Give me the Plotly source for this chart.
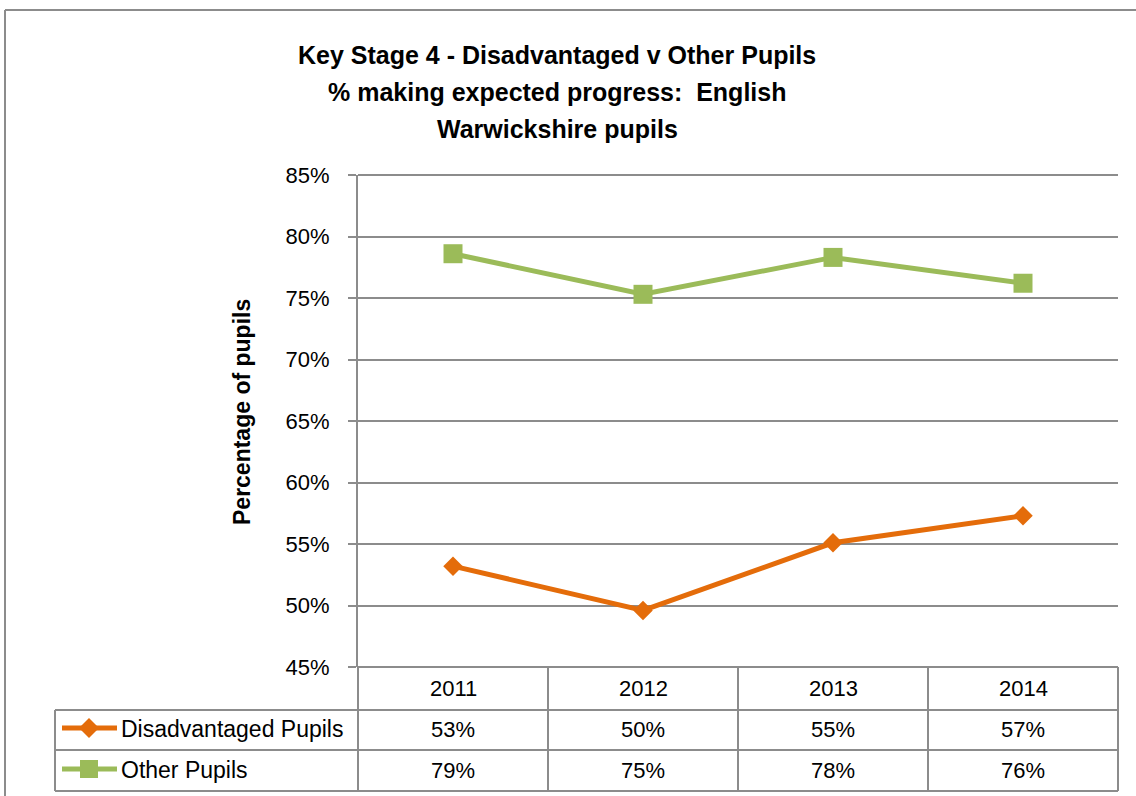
import plotly.graph_objects as go

years = ["2011", "2012", "2013", "2014"]
disadvantaged = [53.2, 49.6, 55.1, 57.3]
other = [78.6, 75.3, 78.3, 76.2]
series_names = ["Disadvantaged Pupils", "Other Pupils"]
title_lines = ["Key Stage 4 - Disadvantaged v Other Pupils",
               "% making expected progress:  English",
               "Warwickshire pupils"]
y_title = "Percentage of pupils"

ORANGE = "#E46C0A"
GREEN = "#9BBB59"
GRID = "#8C8C8C"
FONT = "Liberation Sans, Arial, sans-serif"

W, H = 1136, 796
L, R, T, B = 358, 1118, 175, 667


def px(x):
    return (x - L) / (R - L)


def py(y):
    return (B - y) / (B - T)


fig = go.Figure()
fig.add_trace(go.Scatter(x=years, y=disadvantaged, mode="lines+markers",
                         name=series_names[0],
                         line=dict(color=ORANGE, width=5),
                         marker=dict(symbol="diamond", size=15, color=ORANGE)))
fig.add_trace(go.Scatter(x=years, y=other, mode="lines+markers",
                         name=series_names[1],
                         line=dict(color=GREEN, width=5),
                         marker=dict(symbol="square", size=19, color=GREEN)))

shapes = []


def hline(x0, x1, y, color=GRID, w=2, layer="above"):
    shapes.append(dict(type="line", xref="paper", yref="paper", layer=layer,
                       x0=px(x0), x1=px(x1), y0=py(y), y1=py(y),
                       line=dict(color=color, width=w)))


def vline(x, y0, y1, color=GRID, w=2):
    shapes.append(dict(type="line", xref="paper", yref="paper",
                       x0=px(x), x1=px(x), y0=py(y0), y1=py(y1),
                       line=dict(color=color, width=w)))


# outer chart frame
hline(5, 1140, 10)
vline(5, 10, 800)

# top gridline (85%)
hline(358, 1118, 175, layer="below")

# data table grid
row_y = [667, 710, 750, 791]
col_x = [358, 548, 738, 928, 1118]
hline(358, 1118, 667)
for yy in row_y[1:]:
    hline(55, 1118, yy)
for xx in col_x:
    vline(xx, 667, 791)
vline(55, 710, 791)

annotations = []
# title
for i, t in enumerate(title_lines):
    annotations.append(dict(text=f"<b>{t}</b>", xref="paper", yref="paper",
                            x=px(557), y=py(55 + 37 * i), showarrow=False,
                            xanchor="center", yanchor="middle",
                            font=dict(family=FONT, size=25, color="black")))
# y title
annotations.append(dict(text=f"<b>{y_title}</b>", xref="paper", yref="paper",
                        x=px(242), y=py(412), showarrow=False, textangle=-90,
                        xanchor="center", yanchor="middle",
                        font=dict(family=FONT, size=23, color="black")))

# table header (years)
for i, yr in enumerate(years):
    annotations.append(dict(text=yr, xref="x", yref="paper", x=i, y=py(688),
                            showarrow=False, xanchor="center", yanchor="middle",
                            font=dict(family=FONT, size=22, color="black")))

# table values and legend keys
rows = [(series_names[0], disadvantaged, ORANGE, "diamond", 729),
        (series_names[1], other, GREEN, "square", 770)]
for name, vals, col, sym, ry in rows:
    for i, v in enumerate(vals):
        annotations.append(dict(text=f"{v:.0f}%", xref="x", yref="paper", x=i,
                                y=py(ry), showarrow=False, xanchor="center",
                                yanchor="middle",
                                font=dict(family=FONT, size=22, color="black")))
    annotations.append(dict(text=name, xref="paper", yref="paper", x=px(119),
                            y=py(ry), showarrow=False, xanchor="left",
                            yanchor="middle",
                            font=dict(family=FONT, size=23, color="black")))
    hline(62, 117, ry - 1, color=col, w=5)
    cx, cy = 89, ry - 1
    if sym == "diamond":
        d = 10
        path = (f"M {px(cx - d)} {py(cy)} L {px(cx)} {py(cy - d)} "
                f"L {px(cx + d)} {py(cy)} L {px(cx)} {py(cy + d)} Z")
    else:
        d = 9
        path = (f"M {px(cx - d)} {py(cy - d)} L {px(cx + d)} {py(cy - d)} "
                f"L {px(cx + d)} {py(cy + d)} L {px(cx - d)} {py(cy + d)} Z")
    shapes.append(dict(type="path", xref="paper", yref="paper", path=path,
                       fillcolor=col, line=dict(color=col, width=0)))

fig.update_layout(
    width=W, height=H,
    margin=dict(l=L, r=W - R, t=T, b=H - B),
    paper_bgcolor="white", plot_bgcolor="white",
    showlegend=False,
    shapes=shapes, annotations=annotations,
    font=dict(family=FONT, size=22, color="black"),
    xaxis=dict(type="category", range=[-0.5, 3.5], showticklabels=False,
               showgrid=False, zeroline=False, showline=False, ticks=""),
    yaxis=dict(range=[45, 85], dtick=5, ticksuffix="%",
               showgrid=True, gridcolor=GRID, gridwidth=2,
               showline=True, linecolor=GRID, linewidth=2,
               ticks="outside", ticklen=8, tickcolor=GRID, tickwidth=2,
               ticklabelstandoff=14, zeroline=False,
               tickfont=dict(family=FONT, size=22, color="black")),
)

fig.write_html("out.html",
               config={"displayModeBar": False},
               post_script="document.body.style.margin='0';"
                           "document.body.style.overflow='hidden';")
